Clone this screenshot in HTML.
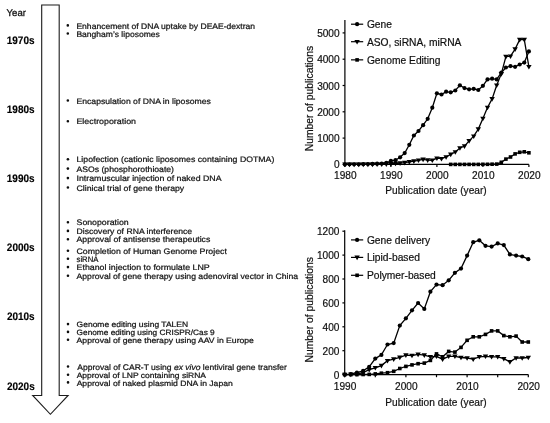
<!DOCTYPE html>
<html lang="en"><head><meta charset="utf-8"><title>History of gene therapy and publication counts</title>
<style>html,body{margin:0;padding:0;background:#fff}svg{display:block}text{font-family:"Liberation Sans", Arial, sans-serif;fill:#111}.b{font-size:8.1px;fill:#111;stroke:#111;stroke-width:0.22px}.d{font-size:10.9px;font-weight:bold;fill:#000;stroke:#000;stroke-width:0.15px}.t{font-size:10.1px}.l{font-size:10.25px}.a{font-size:10.15px}.t,.l,.a{stroke:#111;stroke-width:0.2px}</style></head><body>
<svg width="550" height="423" viewBox="0 0 550 423">
<rect width="550" height="423" fill="#fff"/>
<g filter="url(#bl)">
<path d="M41.7 5H59.2V395.5H68.1L50.4 414.3L32.7 395.5H41.7Z" fill="#fff" stroke="#1c1c1c" stroke-width="1.1" stroke-linejoin="miter"/>
<g transform="matrix(1 0 0.0006 1 -0.1 0)">
<text x="6.7" y="16.2" style="font-size:9.7px;stroke:#111;stroke-width:0.3px" textLength="19.4" lengthAdjust="spacingAndGlyphs">Year</text>
<text class="d" x="6.8" y="44.0" textLength="27.8" lengthAdjust="spacingAndGlyphs">1970s</text>
<text class="d" x="6.8" y="112.7" textLength="27.8" lengthAdjust="spacingAndGlyphs">1980s</text>
<text class="d" x="6.8" y="182.0" textLength="27.8" lengthAdjust="spacingAndGlyphs">1990s</text>
<text class="d" x="6.8" y="251.2" textLength="27.8" lengthAdjust="spacingAndGlyphs">2000s</text>
<text class="d" x="6.8" y="320.3" textLength="27.8" lengthAdjust="spacingAndGlyphs">2010s</text>
<text class="d" x="6.8" y="390.4" textLength="27.8" lengthAdjust="spacingAndGlyphs">2020s</text>
<circle cx="67.9" cy="25.4" r="1.3" fill="#111"/>
<text class="b" style="font-size:8.10px" x="76.5" y="28.60" textLength="178.7" lengthAdjust="spacingAndGlyphs">Enhancement of DNA uptake by DEAE-dextran</text>
<circle cx="67.9" cy="33.5" r="1.3" fill="#111"/>
<text class="b" style="font-size:8.10px" x="76.5" y="36.75" textLength="83.4" lengthAdjust="spacingAndGlyphs">Bangham’s liposomes</text>
<circle cx="67.9" cy="100.5" r="1.3" fill="#111"/>
<text class="b" style="font-size:8.00px" x="76.5" y="103.75" textLength="134.4" lengthAdjust="spacingAndGlyphs">Encapsulation of DNA in liposomes</text>
<circle cx="67.9" cy="121.2" r="1.3" fill="#111"/>
<text class="b" style="font-size:8.00px" x="76.5" y="124.40" textLength="59.5" lengthAdjust="spacingAndGlyphs">Electroporation</text>
<circle cx="67.9" cy="159.2" r="1.3" fill="#111"/>
<text class="b" style="font-size:8.00px" x="76.5" y="162.35" textLength="197.8" lengthAdjust="spacingAndGlyphs">Lipofection (cationic liposomes containing DOTMA)</text>
<circle cx="67.9" cy="168.6" r="1.3" fill="#111"/>
<text class="b" style="font-size:8.00px" x="76.5" y="171.75" textLength="97.5" lengthAdjust="spacingAndGlyphs">ASOs (phosphorothioate)</text>
<circle cx="67.9" cy="178.1" r="1.3" fill="#111"/>
<text class="b" style="font-size:8.00px" x="76.5" y="181.25" textLength="145.0" lengthAdjust="spacingAndGlyphs">Intramuscular injection of naked DNA</text>
<circle cx="67.9" cy="187.5" r="1.3" fill="#111"/>
<text class="b" style="font-size:8.00px" x="76.5" y="190.70" textLength="107.7" lengthAdjust="spacingAndGlyphs">Clinical trial of gene therapy</text>
<circle cx="67.9" cy="222.2" r="1.3" fill="#111"/>
<text class="b" style="font-size:8.00px" x="76.5" y="225.40" textLength="52.1" lengthAdjust="spacingAndGlyphs">Sonoporation</text>
<circle cx="67.9" cy="230.9" r="1.3" fill="#111"/>
<text class="b" style="font-size:8.00px" x="76.5" y="234.10" textLength="115.6" lengthAdjust="spacingAndGlyphs">Discovery of RNA interference</text>
<circle cx="67.9" cy="239.2" r="1.3" fill="#111"/>
<text class="b" style="font-size:8.00px" x="76.5" y="242.40" textLength="133.8" lengthAdjust="spacingAndGlyphs">Approval of antisense therapeutics</text>
<circle cx="67.9" cy="250.7" r="1.3" fill="#111"/>
<text class="b" style="font-size:8.00px" x="76.5" y="253.90" textLength="150.3" lengthAdjust="spacingAndGlyphs">Completion of Human Genome Project</text>
<circle cx="67.9" cy="258.8" r="1.3" fill="#111"/>
<text class="b" style="font-size:8.00px" x="76.5" y="262.00" textLength="21.8" lengthAdjust="spacingAndGlyphs">siRNA</text>
<circle cx="67.9" cy="267.1" r="1.3" fill="#111"/>
<text class="b" style="font-size:8.00px" x="76.5" y="270.30" textLength="133.1" lengthAdjust="spacingAndGlyphs">Ethanol injection to formulate LNP</text>
<circle cx="67.9" cy="275.8" r="1.3" fill="#111"/>
<text class="b" style="font-size:8.00px" x="76.5" y="278.95" textLength="221.5" lengthAdjust="spacingAndGlyphs">Approval of gene therapy using adenoviral vector in China</text>
<circle cx="67.9" cy="324.1" r="1.3" fill="#111"/>
<text class="b" style="font-size:7.70px" x="76.5" y="327.30" textLength="111.5" lengthAdjust="spacingAndGlyphs">Genome editing using TALEN</text>
<circle cx="67.9" cy="331.9" r="1.3" fill="#111"/>
<text class="b" style="font-size:7.70px" x="76.5" y="335.10" textLength="138.1" lengthAdjust="spacingAndGlyphs">Genome editing using CRISPR/Cas 9</text>
<circle cx="67.9" cy="339.8" r="1.3" fill="#111"/>
<text class="b" style="font-size:7.70px" x="76.5" y="343.00" textLength="177.3" lengthAdjust="spacingAndGlyphs">Approval of gene therapy using AAV in Europe</text>
<circle cx="67.9" cy="366.5" r="1.3" fill="#111"/>
<text class="b" style="font-size:8.10px" x="77.1" y="369.70" textLength="209.7" lengthAdjust="spacingAndGlyphs">Approval of CAR-T using <tspan font-style="italic">ex vivo</tspan> lentiviral gene transfer</text>
<circle cx="67.9" cy="374.7" r="1.3" fill="#111"/>
<text class="b" style="font-size:7.70px" x="76.5" y="377.85" textLength="129.4" lengthAdjust="spacingAndGlyphs">Approval of LNP containing siRNA</text>
<circle cx="67.9" cy="382.4" r="1.3" fill="#111"/>
<text class="b" style="font-size:7.70px" x="76.5" y="385.60" textLength="156.1" lengthAdjust="spacingAndGlyphs">Approval of naked plasmid DNA in Japan</text>
</g>
<g stroke="#000" stroke-width="1.2" fill="none">
<path d="M344.9 20.1V164.4H528.9"/>
<path d="M344.9 164.4h-2.3"/>
<path d="M344.9 138.1h-2.3"/>
<path d="M344.9 111.8h-2.3"/>
<path d="M344.9 85.5h-2.3"/>
<path d="M344.9 59.2h-2.3"/>
<path d="M344.9 32.9h-2.3"/>
<path d="M344.9 164.4v2.6"/>
<path d="M390.9 164.4v2.6"/>
<path d="M436.9 164.4v2.6"/>
<path d="M482.9 164.4v2.6"/>
<path d="M528.9 164.4v2.6"/>
</g>
<text class="t" x="339.6" y="168.4" text-anchor="end">0</text>
<text class="t" x="339.6" y="142.1" text-anchor="end">1000</text>
<text class="t" x="339.6" y="115.8" text-anchor="end">2000</text>
<text class="t" x="339.6" y="89.5" text-anchor="end">3000</text>
<text class="t" x="339.6" y="63.2" text-anchor="end">4000</text>
<text class="t" x="339.6" y="36.9" text-anchor="end">5000</text>
<text class="t" x="345.3" y="178.9" text-anchor="middle">1980</text>
<text class="t" x="391.3" y="178.9" text-anchor="middle">1990</text>
<text class="t" x="437.3" y="178.9" text-anchor="middle">2000</text>
<text class="t" x="483.3" y="178.9" text-anchor="middle">2010</text>
<text class="t" x="529.3" y="178.9" text-anchor="middle">2020</text>
<polyline fill="none" stroke="#000" stroke-width="1.3" points="344.9,164.4 349.5,164.3 354.1,164.3 358.7,164.3 363.3,164.2 367.9,164.1 372.5,163.9 377.1,163.7 381.7,163.5 386.3,162.8 390.9,160.8 395.5,160.2 400.1,157.3 404.7,153.1 409.3,144.8 413.9,135.5 418.5,131.0 423.1,125.2 427.7,118.8 432.3,107.7 436.9,93.3 441.5,94.5 446.1,91.7 450.7,92.3 455.3,90.5 459.9,85.3 464.5,88.1 469.1,89.3 473.7,88.8 478.3,90.0 482.9,85.8 487.5,79.4 492.1,78.7 496.7,79.4 501.3,72.7 505.9,67.5 510.5,66.1 515.1,66.8 519.7,64.5 524.3,62.6 528.9,51.4"/>
<g fill="#000"><circle cx="344.9" cy="164.4" r="2.1"/><circle cx="349.5" cy="164.3" r="2.1"/><circle cx="354.1" cy="164.3" r="2.1"/><circle cx="358.7" cy="164.3" r="2.1"/><circle cx="363.3" cy="164.2" r="2.1"/><circle cx="367.9" cy="164.1" r="2.1"/><circle cx="372.5" cy="163.9" r="2.1"/><circle cx="377.1" cy="163.7" r="2.1"/><circle cx="381.7" cy="163.5" r="2.1"/><circle cx="386.3" cy="162.8" r="2.1"/><circle cx="390.9" cy="160.8" r="2.1"/><circle cx="395.5" cy="160.2" r="2.1"/><circle cx="400.1" cy="157.3" r="2.1"/><circle cx="404.7" cy="153.1" r="2.1"/><circle cx="409.3" cy="144.8" r="2.1"/><circle cx="413.9" cy="135.5" r="2.1"/><circle cx="418.5" cy="131.0" r="2.1"/><circle cx="423.1" cy="125.2" r="2.1"/><circle cx="427.7" cy="118.8" r="2.1"/><circle cx="432.3" cy="107.7" r="2.1"/><circle cx="436.9" cy="93.3" r="2.1"/><circle cx="441.5" cy="94.5" r="2.1"/><circle cx="446.1" cy="91.7" r="2.1"/><circle cx="450.7" cy="92.3" r="2.1"/><circle cx="455.3" cy="90.5" r="2.1"/><circle cx="459.9" cy="85.3" r="2.1"/><circle cx="464.5" cy="88.1" r="2.1"/><circle cx="469.1" cy="89.3" r="2.1"/><circle cx="473.7" cy="88.8" r="2.1"/><circle cx="478.3" cy="90.0" r="2.1"/><circle cx="482.9" cy="85.8" r="2.1"/><circle cx="487.5" cy="79.4" r="2.1"/><circle cx="492.1" cy="78.7" r="2.1"/><circle cx="496.7" cy="79.4" r="2.1"/><circle cx="501.3" cy="72.7" r="2.1"/><circle cx="505.9" cy="67.5" r="2.1"/><circle cx="510.5" cy="66.1" r="2.1"/><circle cx="515.1" cy="66.8" r="2.1"/><circle cx="519.7" cy="64.5" r="2.1"/><circle cx="524.3" cy="62.6" r="2.1"/><circle cx="528.9" cy="51.4" r="2.1"/></g>
<polyline fill="none" stroke="#000" stroke-width="1.3" points="344.9,164.4 349.5,164.4 354.1,164.4 358.7,164.4 363.3,164.4 367.9,164.4 372.5,164.4 377.1,164.3 381.7,164.3 386.3,164.1 390.9,163.9 395.5,163.5 400.1,163.1 404.7,162.6 409.3,161.9 413.9,161.1 418.5,160.3 423.1,159.4 427.7,160.1 432.3,160.3 436.9,158.2 441.5,158.7 446.1,157.0 450.7,154.4 455.3,152.0 459.9,148.0 464.5,146.1 469.1,140.9 473.7,136.2 478.3,129.1 482.9,118.5 487.5,107.5 492.1,98.9 496.7,85.2 501.3,73.9 505.9,56.6 510.5,56.2 515.1,49.1 519.7,39.6 524.3,39.6 528.9,66.8"/>
<g fill="#000"><path d="M342.2 162.6h5.4l-2.7 4.6z"/><path d="M346.8 162.6h5.4l-2.7 4.6z"/><path d="M351.4 162.6h5.4l-2.7 4.6z"/><path d="M356.0 162.6h5.4l-2.7 4.6z"/><path d="M360.6 162.6h5.4l-2.7 4.6z"/><path d="M365.2 162.6h5.4l-2.7 4.6z"/><path d="M369.8 162.6h5.4l-2.7 4.6z"/><path d="M374.4 162.5h5.4l-2.7 4.6z"/><path d="M379.0 162.5h5.4l-2.7 4.6z"/><path d="M383.6 162.3h5.4l-2.7 4.6z"/><path d="M388.2 162.1h5.4l-2.7 4.6z"/><path d="M392.8 161.7h5.4l-2.7 4.6z"/><path d="M397.4 161.3h5.4l-2.7 4.6z"/><path d="M402.0 160.8h5.4l-2.7 4.6z"/><path d="M406.6 160.1h5.4l-2.7 4.6z"/><path d="M411.2 159.3h5.4l-2.7 4.6z"/><path d="M415.8 158.5h5.4l-2.7 4.6z"/><path d="M420.4 157.6h5.4l-2.7 4.6z"/><path d="M425.0 158.3h5.4l-2.7 4.6z"/><path d="M429.6 158.5h5.4l-2.7 4.6z"/><path d="M434.2 156.4h5.4l-2.7 4.6z"/><path d="M438.8 156.9h5.4l-2.7 4.6z"/><path d="M443.4 155.2h5.4l-2.7 4.6z"/><path d="M448.0 152.6h5.4l-2.7 4.6z"/><path d="M452.6 150.2h5.4l-2.7 4.6z"/><path d="M457.2 146.2h5.4l-2.7 4.6z"/><path d="M461.8 144.3h5.4l-2.7 4.6z"/><path d="M466.4 139.1h5.4l-2.7 4.6z"/><path d="M471.0 134.4h5.4l-2.7 4.6z"/><path d="M475.6 127.3h5.4l-2.7 4.6z"/><path d="M480.2 116.7h5.4l-2.7 4.6z"/><path d="M484.8 105.7h5.4l-2.7 4.6z"/><path d="M489.4 97.1h5.4l-2.7 4.6z"/><path d="M494.0 83.4h5.4l-2.7 4.6z"/><path d="M498.6 72.1h5.4l-2.7 4.6z"/><path d="M503.2 54.8h5.4l-2.7 4.6z"/><path d="M507.8 54.4h5.4l-2.7 4.6z"/><path d="M512.4 47.3h5.4l-2.7 4.6z"/><path d="M517.0 37.8h5.4l-2.7 4.6z"/><path d="M521.6 37.8h5.4l-2.7 4.6z"/><path d="M526.2 65.0h5.4l-2.7 4.6z"/></g>
<polyline fill="none" stroke="#000" stroke-width="1.3" points="450.7,164.4 455.3,164.4 459.9,164.4 464.5,164.4 469.1,164.4 473.7,164.4 478.3,164.4 482.9,164.3 487.5,164.3 492.1,164.2 496.7,164.1 501.3,162.3 505.9,159.1 510.5,157.0 515.1,153.9 519.7,152.3 524.3,151.8 528.9,152.8"/>
<g fill="#000"><rect x="448.9" y="162.6" width="3.6" height="3.6"/><rect x="453.5" y="162.6" width="3.6" height="3.6"/><rect x="458.1" y="162.6" width="3.6" height="3.6"/><rect x="462.7" y="162.6" width="3.6" height="3.6"/><rect x="467.3" y="162.6" width="3.6" height="3.6"/><rect x="471.9" y="162.6" width="3.6" height="3.6"/><rect x="476.5" y="162.6" width="3.6" height="3.6"/><rect x="481.1" y="162.5" width="3.6" height="3.6"/><rect x="485.7" y="162.5" width="3.6" height="3.6"/><rect x="490.3" y="162.4" width="3.6" height="3.6"/><rect x="494.9" y="162.3" width="3.6" height="3.6"/><rect x="499.5" y="160.5" width="3.6" height="3.6"/><rect x="504.1" y="157.3" width="3.6" height="3.6"/><rect x="508.7" y="155.2" width="3.6" height="3.6"/><rect x="513.3" y="152.1" width="3.6" height="3.6"/><rect x="517.9" y="150.5" width="3.6" height="3.6"/><rect x="522.5" y="150.0" width="3.6" height="3.6"/><rect x="527.1" y="151.0" width="3.6" height="3.6"/></g>
<path d="M351 24.20h12.2" stroke="#000" stroke-width="1.2"/>
<g fill="#000"><circle cx="357.1" cy="24.2" r="2.1"/></g>
<text class="l" x="366.9" y="28.00">Gene</text>
<path d="M351 41.70h12.2" stroke="#000" stroke-width="1.2"/>
<g fill="#000"><path d="M354.4 39.9h5.4l-2.7 4.6z"/></g>
<text class="l" x="366.9" y="45.50">ASO, siRNA, miRNA</text>
<path d="M351 59.85h12.2" stroke="#000" stroke-width="1.2"/>
<g fill="#000"><rect x="355.3" y="58.1" width="3.6" height="3.6"/></g>
<text class="l" x="366.9" y="63.65">Genome Editing</text>
<text class="a" style="font-size:10.3px" transform="translate(312.7 98.5) rotate(-90)" text-anchor="middle">Number of publications</text>
<text class="a" x="436" y="193.8" text-anchor="middle">Publication date (year)</text>
<g stroke="#000" stroke-width="1.2" fill="none">
<path d="M344.7 230.3V374.6H528.3"/>
<path d="M344.7 374.6h-2.3"/>
<path d="M344.7 350.7h-2.3"/>
<path d="M344.7 326.8h-2.3"/>
<path d="M344.7 302.9h-2.3"/>
<path d="M344.7 279.0h-2.3"/>
<path d="M344.7 255.1h-2.3"/>
<path d="M344.7 231.2h-2.3"/>
<path d="M344.7 374.6v2.6"/>
<path d="M375.3 374.6v2.6"/>
<path d="M405.9 374.6v2.6"/>
<path d="M436.5 374.6v2.6"/>
<path d="M467.1 374.6v2.6"/>
<path d="M497.7 374.6v2.6"/>
<path d="M528.3 374.6v2.6"/>
</g>
<text class="t" x="339.4" y="378.6" text-anchor="end">0</text>
<text class="t" x="339.4" y="354.7" text-anchor="end">200</text>
<text class="t" x="339.4" y="330.8" text-anchor="end">400</text>
<text class="t" x="339.4" y="306.9" text-anchor="end">600</text>
<text class="t" x="339.4" y="283.0" text-anchor="end">800</text>
<text class="t" x="339.4" y="259.1" text-anchor="end">1000</text>
<text class="t" x="339.4" y="235.2" text-anchor="end">1200</text>
<text class="t" x="345.1" y="390.1" text-anchor="middle">1990</text>
<text class="t" x="406.3" y="390.1" text-anchor="middle">2000</text>
<text class="t" x="467.5" y="390.1" text-anchor="middle">2010</text>
<text class="t" x="528.7" y="390.1" text-anchor="middle">2020</text>
<polyline fill="none" stroke="#000" stroke-width="1.3" points="344.7,374.6 350.8,374.2 356.9,372.7 363.1,370.9 369.2,366.8 375.3,358.6 381.4,354.9 387.5,344.5 393.7,343.1 399.8,325.6 405.9,318.3 412.0,310.3 418.1,303.0 424.3,308.9 430.4,291.7 436.5,284.6 442.6,285.2 448.7,280.3 454.9,272.8 461.0,268.6 467.1,255.6 473.2,242.2 479.3,240.3 485.5,245.8 491.6,246.6 497.7,243.4 503.8,245.1 509.9,254.4 516.1,255.6 522.2,256.5 528.3,259.2"/>
<g fill="#000"><circle cx="344.7" cy="374.6" r="2.1"/><circle cx="350.8" cy="374.2" r="2.1"/><circle cx="356.9" cy="372.7" r="2.1"/><circle cx="363.1" cy="370.9" r="2.1"/><circle cx="369.2" cy="366.8" r="2.1"/><circle cx="375.3" cy="358.6" r="2.1"/><circle cx="381.4" cy="354.9" r="2.1"/><circle cx="387.5" cy="344.5" r="2.1"/><circle cx="393.7" cy="343.1" r="2.1"/><circle cx="399.8" cy="325.6" r="2.1"/><circle cx="405.9" cy="318.3" r="2.1"/><circle cx="412.0" cy="310.3" r="2.1"/><circle cx="418.1" cy="303.0" r="2.1"/><circle cx="424.3" cy="308.9" r="2.1"/><circle cx="430.4" cy="291.7" r="2.1"/><circle cx="436.5" cy="284.6" r="2.1"/><circle cx="442.6" cy="285.2" r="2.1"/><circle cx="448.7" cy="280.3" r="2.1"/><circle cx="454.9" cy="272.8" r="2.1"/><circle cx="461.0" cy="268.6" r="2.1"/><circle cx="467.1" cy="255.6" r="2.1"/><circle cx="473.2" cy="242.2" r="2.1"/><circle cx="479.3" cy="240.3" r="2.1"/><circle cx="485.5" cy="245.8" r="2.1"/><circle cx="491.6" cy="246.6" r="2.1"/><circle cx="497.7" cy="243.4" r="2.1"/><circle cx="503.8" cy="245.1" r="2.1"/><circle cx="509.9" cy="254.4" r="2.1"/><circle cx="516.1" cy="255.6" r="2.1"/><circle cx="522.2" cy="256.5" r="2.1"/><circle cx="528.3" cy="259.2" r="2.1"/></g>
<polyline fill="none" stroke="#000" stroke-width="1.3" points="344.7,374.6 350.8,374.4 356.9,374.0 363.1,372.7 369.2,369.7 375.3,367.8 381.4,365.6 387.5,360.7 393.7,359.1 399.8,357.4 405.9,355.1 412.0,355.5 418.1,354.4 424.3,355.1 430.4,356.8 436.5,356.3 442.6,359.2 448.7,356.3 454.9,356.3 461.0,357.5 467.1,358.0 473.2,359.2 479.3,356.8 485.5,356.3 491.6,356.8 497.7,356.8 503.8,358.7 509.9,361.9 516.1,358.0 522.2,358.0 528.3,357.5"/>
<g fill="#000"><path d="M342.0 372.8h5.4l-2.7 4.6z"/><path d="M348.1 372.6h5.4l-2.7 4.6z"/><path d="M354.2 372.2h5.4l-2.7 4.6z"/><path d="M360.4 370.9h5.4l-2.7 4.6z"/><path d="M366.5 367.9h5.4l-2.7 4.6z"/><path d="M372.6 366.0h5.4l-2.7 4.6z"/><path d="M378.7 363.8h5.4l-2.7 4.6z"/><path d="M384.8 358.9h5.4l-2.7 4.6z"/><path d="M391.0 357.3h5.4l-2.7 4.6z"/><path d="M397.1 355.6h5.4l-2.7 4.6z"/><path d="M403.2 353.3h5.4l-2.7 4.6z"/><path d="M409.3 353.7h5.4l-2.7 4.6z"/><path d="M415.4 352.6h5.4l-2.7 4.6z"/><path d="M421.6 353.3h5.4l-2.7 4.6z"/><path d="M427.7 355.0h5.4l-2.7 4.6z"/><path d="M433.8 354.5h5.4l-2.7 4.6z"/><path d="M439.9 357.4h5.4l-2.7 4.6z"/><path d="M446.0 354.5h5.4l-2.7 4.6z"/><path d="M452.2 354.5h5.4l-2.7 4.6z"/><path d="M458.3 355.7h5.4l-2.7 4.6z"/><path d="M464.4 356.2h5.4l-2.7 4.6z"/><path d="M470.5 357.4h5.4l-2.7 4.6z"/><path d="M476.6 355.0h5.4l-2.7 4.6z"/><path d="M482.8 354.5h5.4l-2.7 4.6z"/><path d="M488.9 355.0h5.4l-2.7 4.6z"/><path d="M495.0 355.0h5.4l-2.7 4.6z"/><path d="M501.1 356.9h5.4l-2.7 4.6z"/><path d="M507.2 360.1h5.4l-2.7 4.6z"/><path d="M513.4 356.2h5.4l-2.7 4.6z"/><path d="M519.5 356.2h5.4l-2.7 4.6z"/><path d="M525.6 355.7h5.4l-2.7 4.6z"/></g>
<polyline fill="none" stroke="#000" stroke-width="1.3" points="344.7,374.6 350.8,374.6 356.9,374.6 363.1,374.5 369.2,374.4 375.3,373.9 381.4,373.2 387.5,372.7 393.7,371.3 399.8,368.5 405.9,366.4 412.0,364.9 418.1,363.7 424.3,363.1 430.4,360.4 436.5,353.9 442.6,356.8 448.7,351.4 454.9,352.1 461.0,347.4 467.1,340.3 473.2,336.8 479.3,336.8 485.5,334.4 491.6,330.9 497.7,330.9 503.8,335.6 509.9,336.8 516.1,336.1 522.2,342.0 528.3,342.0"/>
<g fill="#000"><rect x="342.9" y="372.8" width="3.6" height="3.6"/><rect x="349.0" y="372.8" width="3.6" height="3.6"/><rect x="355.1" y="372.8" width="3.6" height="3.6"/><rect x="361.3" y="372.7" width="3.6" height="3.6"/><rect x="367.4" y="372.6" width="3.6" height="3.6"/><rect x="373.5" y="372.1" width="3.6" height="3.6"/><rect x="379.6" y="371.4" width="3.6" height="3.6"/><rect x="385.7" y="370.9" width="3.6" height="3.6"/><rect x="391.9" y="369.5" width="3.6" height="3.6"/><rect x="398.0" y="366.7" width="3.6" height="3.6"/><rect x="404.1" y="364.6" width="3.6" height="3.6"/><rect x="410.2" y="363.1" width="3.6" height="3.6"/><rect x="416.3" y="361.9" width="3.6" height="3.6"/><rect x="422.5" y="361.3" width="3.6" height="3.6"/><rect x="428.6" y="358.6" width="3.6" height="3.6"/><rect x="434.7" y="352.1" width="3.6" height="3.6"/><rect x="440.8" y="355.0" width="3.6" height="3.6"/><rect x="446.9" y="349.6" width="3.6" height="3.6"/><rect x="453.1" y="350.3" width="3.6" height="3.6"/><rect x="459.2" y="345.6" width="3.6" height="3.6"/><rect x="465.3" y="338.5" width="3.6" height="3.6"/><rect x="471.4" y="335.0" width="3.6" height="3.6"/><rect x="477.5" y="335.0" width="3.6" height="3.6"/><rect x="483.7" y="332.6" width="3.6" height="3.6"/><rect x="489.8" y="329.1" width="3.6" height="3.6"/><rect x="495.9" y="329.1" width="3.6" height="3.6"/><rect x="502.0" y="333.8" width="3.6" height="3.6"/><rect x="508.1" y="335.0" width="3.6" height="3.6"/><rect x="514.3" y="334.3" width="3.6" height="3.6"/><rect x="520.4" y="340.2" width="3.6" height="3.6"/><rect x="526.5" y="340.2" width="3.6" height="3.6"/></g>
<path d="M351 239.90h12.2" stroke="#000" stroke-width="1.2"/>
<g fill="#000"><circle cx="357.1" cy="239.9" r="2.1"/></g>
<text class="l" x="366.9" y="243.70">Gene delivery</text>
<path d="M351 257.40h12.2" stroke="#000" stroke-width="1.2"/>
<g fill="#000"><path d="M354.4 255.6h5.4l-2.7 4.6z"/></g>
<text class="l" x="366.9" y="261.20">Lipid-based</text>
<path d="M351 275.30h12.2" stroke="#000" stroke-width="1.2"/>
<g fill="#000"><rect x="355.3" y="273.5" width="3.6" height="3.6"/></g>
<text class="l" x="366.9" y="279.10">Polymer-based</text>
<text class="a" style="font-size:10.3px" transform="translate(312.7 309.8) rotate(-90)" text-anchor="middle">Number of publications</text>
<text class="a" x="436" y="405.6" text-anchor="middle">Publication date (year)</text>
</g>
<defs><filter id="bl" x="0" y="0" width="550" height="423" filterUnits="userSpaceOnUse"><feGaussianBlur stdDeviation="0.35"/></filter></defs>
</svg></body></html>
